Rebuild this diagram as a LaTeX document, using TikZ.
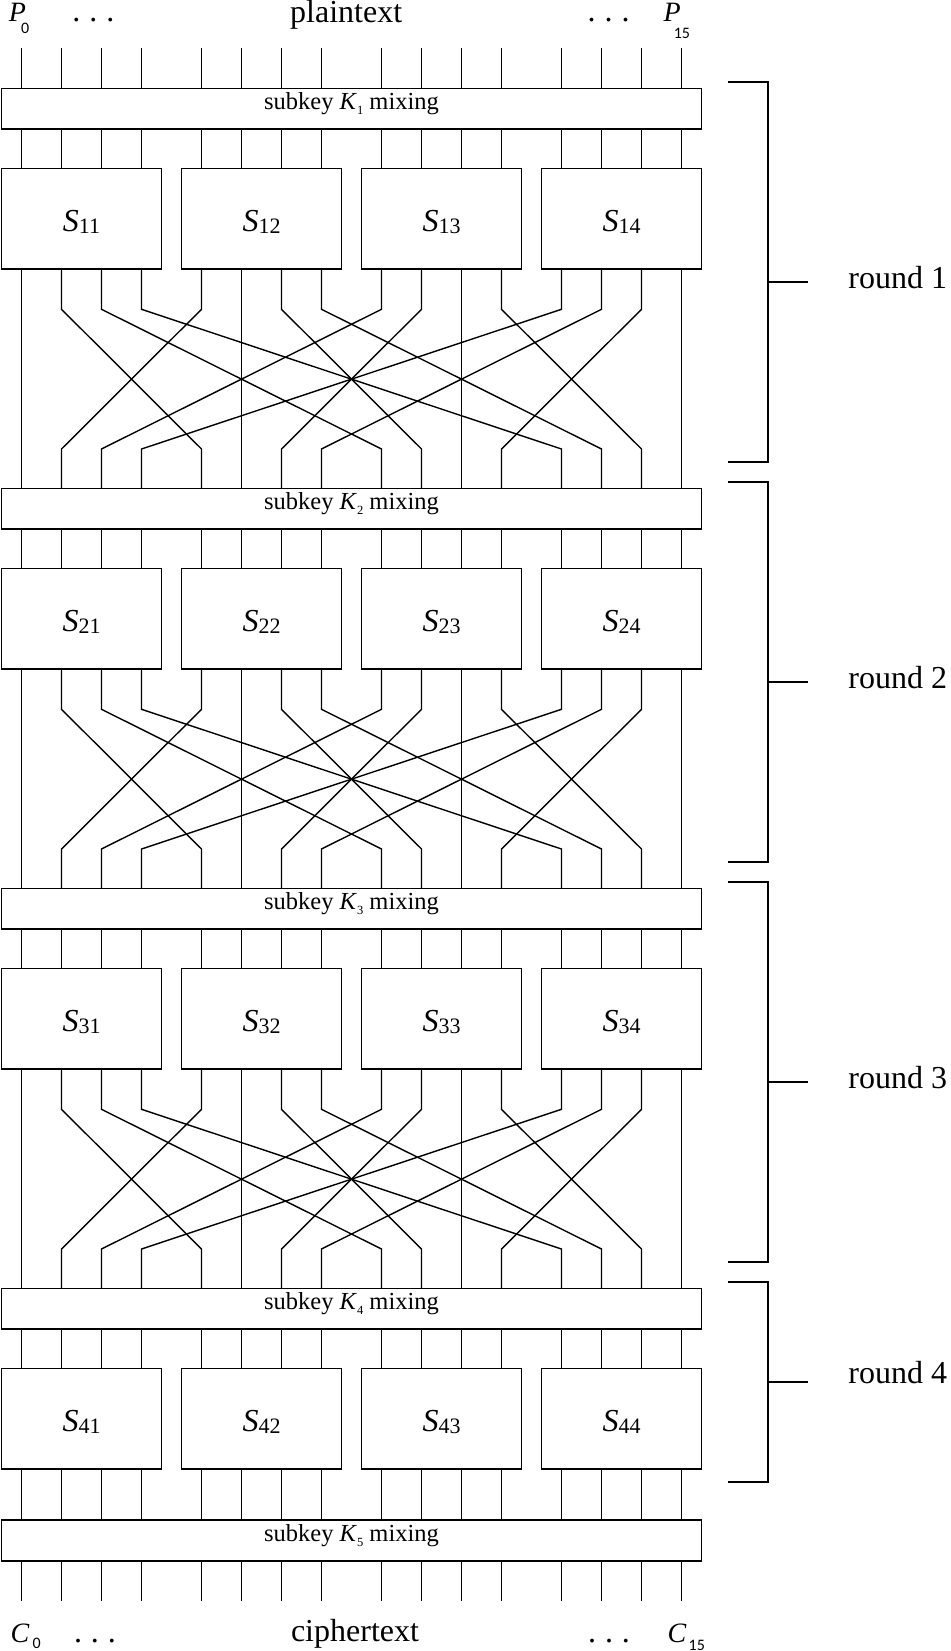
\documentclass[tikz,border=0pt]{standalone}
\usepackage{fontspec}
\setmainfont{Liberation Serif}
\newfontfamily\subf{Carlito}
\usetikzlibrary{positioning,calc}
\newcommand{\slbl}[2]{\textit{#1}\raisebox{-2.3pt}{\fontsize{22}{22}\selectfont #2}}
\newcommand{\kmix}[1]{subkey \textit{K}\raisebox{-5pt}{\fontsize{12.5}{12.5}\selectfont #1} mixing}
\newcommand{\ddd}{.\hspace{9pt}.\hspace{9pt}.}
\newcommand{\iosub}[2]{\raisebox{#1}{\subf\fontsize{16}{16}\selectfont #2}}

\begin{document}
\begin{tikzpicture}[x=1pt,y=-1pt,line width=1.4pt,node distance=20pt]
\tikzstyle{mix}=[draw,line width=1.8pt,minimum width=700pt,minimum height=40.5pt,inner sep=0pt,outer sep=0pt,text height=8pt,text depth=6pt,font=\fontsize{24.5}{24.5}\selectfont]
\tikzstyle{sbox}=[draw,line width=1.8pt,minimum width=160pt,minimum height=100.5pt,inner sep=0pt,outer sep=0pt,text height=24.5pt,text depth=0pt,font=\fontsize{32}{32}\selectfont]
\tikzstyle{big}=[inner sep=0pt,font=\fontsize{32}{32}\selectfont]
\tikzstyle{io}=[inner sep=0pt,anchor=base west,font=\fontsize{28}{28}\selectfont]
\useasboundingbox (0,0) rectangle (950,1651);

% wire ends
\foreach \b in {0,...,15}{
  \pgfmathsetmacro\wx{21.5+180*floor(\b/4)+40*mod(\b,4)}
  \coordinate (p\b) at (\wx,48.3);
  \coordinate (c\b) at (\wx,1601);
}

% rounds
\foreach \r in {1,...,4}{
  \node[mix] (mix\r) at (351.5,108.75+400*\r-400) {\kmix{\r}};
  \node[sbox,below right=39.5pt and 0pt of mix\r.south west] (s\r1) {\slbl{S}{\r1}};
  \foreach \g [count=\pg from 1] in {2,3,4}
    \node[sbox,right=of s\r\pg] (s\r\g) {\slbl{S}{\r\g}};
}
\node[mix] (mix5) at (351.5,1540.5) {\kmix{5}};

% wires
\foreach \b in {0,...,15}{
  \pgfmathtruncatemacro\g{floor(\b/4)+1}
  \pgfmathtruncatemacro\d{4*mod(\b,4)+floor(\b/4)}
  \draw (p\b) -- (mix1.north -| p\b);
  \foreach \r in {1,...,4}
    \draw (mix\r.south -| p\b) -- (s\r\g.north -| p\b);
  \foreach \r [evaluate=\r as \n using int(\r+1)] in {1,2,3}
    \draw (s\r\g.south -| p\b) -- ++(0,40.3) -- ($(mix\n.north -| p\d)+(0,-39.5)$) -- (mix\n.north -| p\d);
  \draw (s4\g.south -| p\b) -- (mix5.north -| p\b);
  \draw (mix5.south -| c\b) -- (c\b);
}

% round brackets
\foreach \r/\yt/\yb/\ym/\ydy in {1/82.3/462.3/281.7/6.6,2/482.3/862.3/681.7/6.6,3/882.3/1262.3/1081.7/6.6,4/1282.3/1481.7/1381.7/1.6}{
  \draw[line width=1.8pt] (727.7,\yt) -- (768.3,\yt) -- (768.3,\yb) -- (727.7,\yb);
  \draw[line width=1.8pt] (768.3,\ym) -- (808.3,\ym);
  \node[big,anchor=base west] (rnd\r) at (847.7,\ym+\ydy) {round \r};
}

% plaintext / ciphertext
\node[io] (plo) at (8.3,21.7) {\textit{P}\kern-5pt\iosub{-11.6pt}{0}};
\node[big,anchor=base] (pdl) at (93.3,21.7) {\ddd};
\node[big,anchor=base] (ptxt) at (346.2,22.7) {plaintext};
\node[big,anchor=base] (pdr) at (608.7,21.7) {\ddd};
\node[io] (phi) at (663,21.7) {\textit{P}\kern-7pt\iosub{-16.6pt}{15}};
\node[io] (clo) at (10,1642.7) {\textit{C}\kern3pt\iosub{-5.6pt}{0}};
\node[big,anchor=base] (cdl) at (95,1642.7) {\ddd};
\node[big,anchor=base] (ctxt) at (355,1641.7) {ciphertext};
\node[big,anchor=base] (cdr) at (609,1642.7) {\ddd};
\node[io] (chi) at (667,1642.7) {\textit{C}\kern2pt\iosub{-7.5pt}{15}};
\end{tikzpicture}
\end{document}
